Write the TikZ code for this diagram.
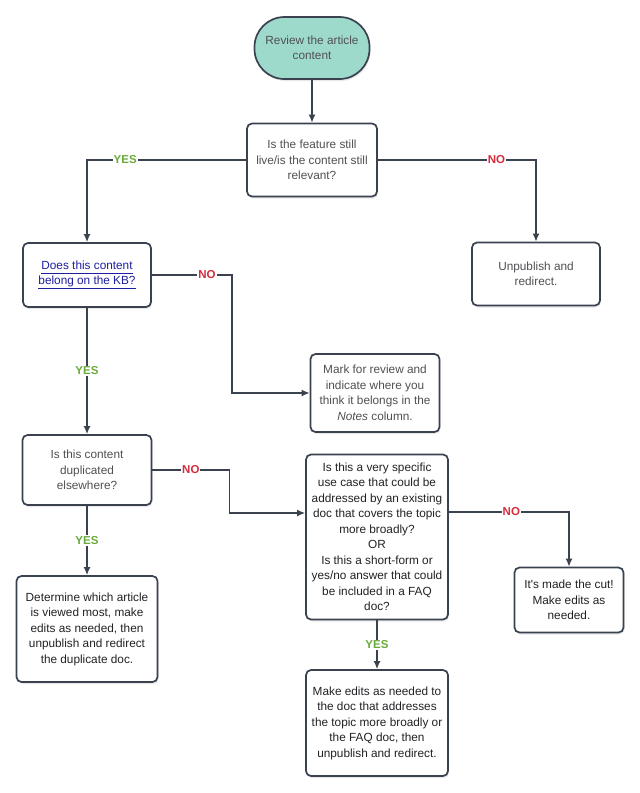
\documentclass[tikz,border=0pt]{standalone}
\usepackage{fontspec}
\setmainfont{Liberation Sans}
\usetikzlibrary{shadows}
\definecolor{edgegray}{RGB}{58,66,80}
\definecolor{txtgray}{RGB}{80,80,84}
\definecolor{txtdark}{RGB}{34,34,38}
\definecolor{startteal}{RGB}{158,218,204}
\definecolor{yesgreen}{RGB}{106,170,58}
\definecolor{nored}{RGB}{214,44,60}
\definecolor{linkblue}{RGB}{30,30,160}
\tikzset{
  box/.style={draw=edgegray, line width=1.7pt, rounded corners=5pt, fill=white, align=center, text=txtgray, font=\fontsize{11.8}{15.5}\selectfont, inner sep=2pt, drop shadow={opacity=0.18, shadow xshift=1pt, shadow yshift=-2pt}},
  startbox/.style={box, fill=startteal, rounded corners=30pt},
  arrow/.style={draw=edgegray, line width=1.5pt, -{Latex[length=8pt,width=7pt]}},
  yes/.style={fill=white, text=yesgreen, font=\fontsize{11.5}{12}\selectfont\bfseries, inner sep=1pt},
  no/.style={fill=white, text=nored, font=\fontsize{11.5}{12}\selectfont\bfseries, inner sep=1pt}
}
\usetikzlibrary{arrows.meta}
\begin{document}
\begin{tikzpicture}[x=1pt,y=-1pt]
\useasboundingbox (0,0) rectangle (640,793);
\node[startbox, minimum width=115pt, minimum height=62pt] (start) at (312,48) {Review the article\\content};
\node[box, minimum width=130pt, minimum height=73pt] (live) at (312,160) {Is the feature still\\live/is the content still\\relevant?};
\node[box, minimum width=128pt, minimum height=63pt] (unpub) at (536,274) {Unpublish and\\redirect.};
\node[box, minimum width=128pt, minimum height=64pt, text=linkblue] (kb) at (87,275) {\underline{Does this content\vphantom{g}}\\\underline{belong on the KB?}};
\node[box, minimum width=129pt, minimum height=78pt] (mark) at (375,393) {Mark for review and\\indicate where you\\think it belongs in the\\\textit{Notes} column.};
\node[box, minimum width=129pt, minimum height=70pt] (dup) at (87,470) {Is this content\\duplicated\\elsewhere?};
\node[box, minimum width=141pt, minimum height=106pt, text=txtdark] (viewed) at (87,629) {Determine which article\\is viewed most, make\\edits as needed, then\\unpublish and redirect\\the duplicate doc.};
\node[box, minimum width=142pt, minimum height=165pt, text=txtdark] (specific) at (377,537) {Is this a very specific\\use case that could be\\addressed by an existing\\doc that covers the topic\\more broadly?\\OR\\Is this a short-form or\\yes/no answer that could\\be included in a FAQ\\doc?};
\node[box, minimum width=109pt, minimum height=65pt, text=txtdark] (cut) at (569,600) {It\textquotesingle s made the cut!\\Make edits as\\needed.};
\node[box, minimum width=142pt, minimum height=106pt, text=txtdark] (broad) at (377,723) {Make edits as needed to\\the doc that addresses\\the topic more broadly or\\the FAQ doc, then\\unpublish and redirect.};
\draw[arrow] (start) -- (live);
\draw[arrow] (live.west) -| node[yes, pos=0.38] {YES} (kb.north);
\draw[arrow] (live.east) -| node[no, pos=0.375] {NO} (unpub.north);
\draw[arrow] (kb.east) -- node[no, pos=0.69] {NO} ++(80,0) |- (mark.west);
\draw[arrow] (kb) -- node[yes] {YES} (dup);
\draw[arrow] (dup.east) -- node[no] {NO} ++(77,0) |- ([yshift=24pt]specific.west);
\draw[arrow] (dup) -- node[yes] {YES} (viewed);
\draw[arrow] ([yshift=25pt]specific.east) -| node[no, pos=0.26] {NO} (cut.north);
\draw[arrow] (specific) -- node[yes] {YES} (broad);
\end{tikzpicture}
\end{document}
